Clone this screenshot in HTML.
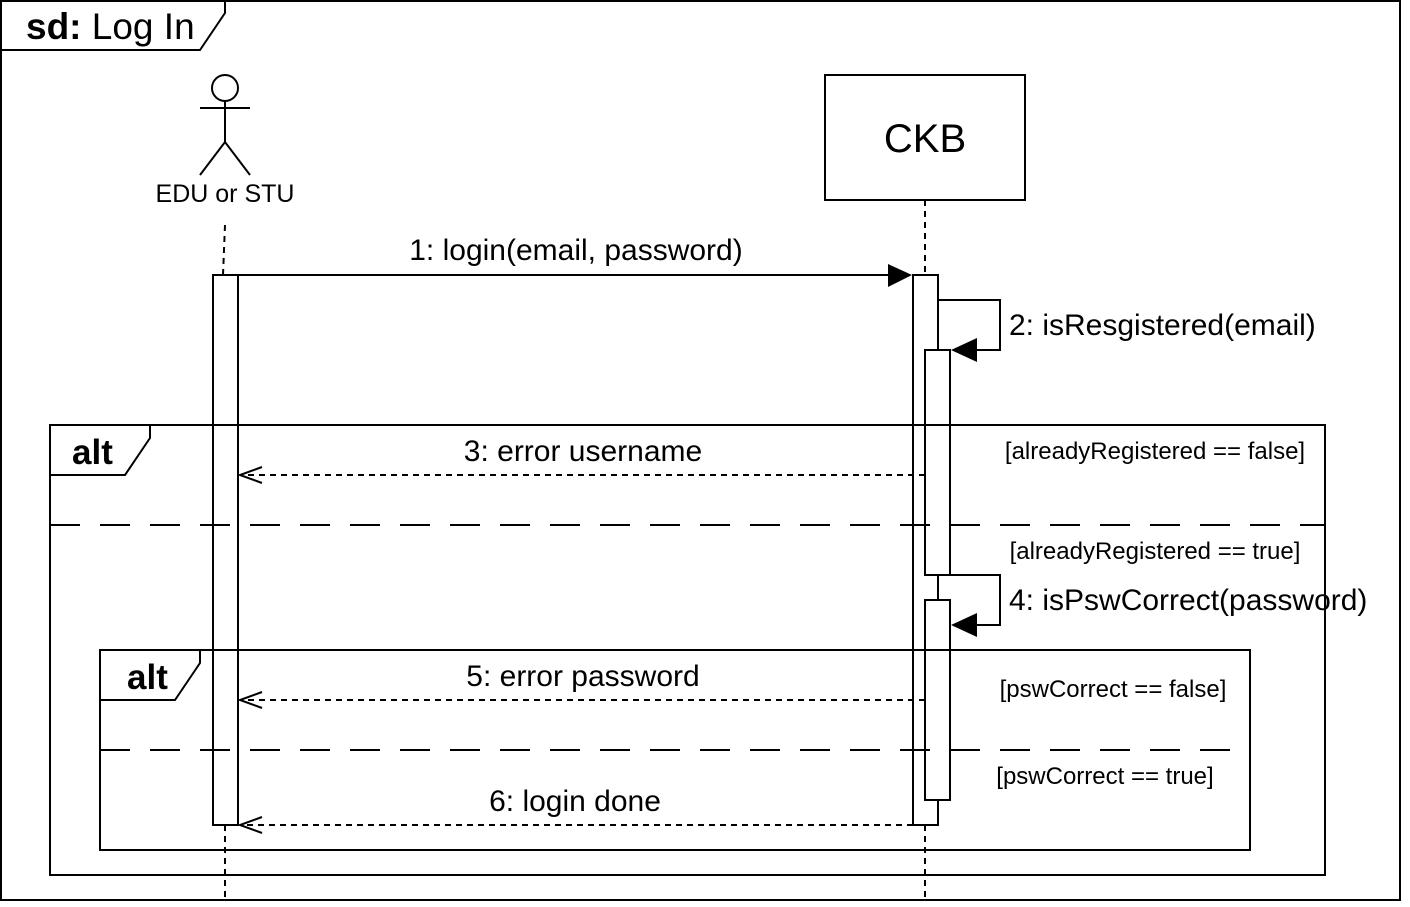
<!DOCTYPE html>
<html><head><style>body{margin:0;background:#fff}svg{display:block}text{font-family:"Liberation Sans",Arial,sans-serif;fill:#000}</style></head>
<body>
<svg width="1410" height="907" viewBox="0 0 1410 907" xmlns="http://www.w3.org/2000/svg">
<rect x="0" y="0" width="1410" height="907" fill="#fff"/>
<g stroke="#000" stroke-width="2" fill="none">
<rect x="1" y="1" width="1399" height="899"/>
<path d="M1 50 H200 L225 13 V1"/>
<path d="M225 225 L223 275 M225 825 V900 M925 200 V275 M925 825 V900" stroke-dasharray="6,5"/>
<circle cx="225" cy="88" r="13"/>
<path d="M225 101 V142 M200 108 H250 M200 175 L225 142 L250 175"/>
</g>
<rect x="825" y="75" width="200" height="125" fill="#fff" stroke="#000" stroke-width="2"/>
<text x="925" y="152" font-size="40" text-anchor="middle">CKB</text>
<text x="225" y="202" font-size="25" text-anchor="middle">EDU or STU</text>
<text x="26" y="39" font-size="37"><tspan font-weight="bold">sd:</tspan> Log In</text>
<g stroke="#000" stroke-width="2" fill="#fff">
<rect x="213" y="275" width="25" height="550"/>
<rect x="913" y="275" width="25" height="550"/>
<rect x="925" y="350" width="25" height="225"/>
<rect x="925" y="600" width="25" height="200"/>
</g>
<g stroke="#000" stroke-width="2" fill="none">
<path d="M238 275 H890"/>
<path d="M938 300 H1000 V350 H975"/>
<path d="M938 575 H1000 V625 H975"/>
<path d="M925 475 H240 M925 700 H240 M913 825 H240" stroke-dasharray="6,5"/>
<path d="M262 467 L240 475 L262 483 M262 692 L240 700 L262 708 M262 817 L240 825 L262 833"/>
</g>
<g fill="#000">
<path d="M888 264 L912 275 L888 287Z"/>
<path d="M951 350 L977 338 L977 362Z"/>
<path d="M951 625 L977 613 L977 637Z"/>
</g>
<g stroke="#000" stroke-width="2" fill="none">
<rect x="50" y="425" width="1275" height="450"/>
<path d="M50 475 H125 L150 438 V425"/>
<path d="M50 525 H1325" stroke-dasharray="30,20"/>
<rect x="100" y="650" width="1150" height="200"/>
<path d="M100 700 H175 L200 663 V650"/>
<path d="M100 750 H1250" stroke-dasharray="30,20"/>
</g>
<g font-size="30">
<text x="576" y="260" text-anchor="middle">1: login(email, password)</text>
<text x="1009" y="335">2: isResgistered(email)</text>
<text x="583" y="461" text-anchor="middle">3: error username</text>
<text x="1009" y="610">4: isPswCorrect(password)</text>
<text x="583" y="686" text-anchor="middle">5: error password</text>
<text x="575" y="811" text-anchor="middle">6: login done</text>
</g>
<g font-size="24">
<text x="1155" y="459" text-anchor="middle">[alreadyRegistered == false]</text>
<text x="1155" y="559" text-anchor="middle">[alreadyRegistered == true]</text>
<text x="1113" y="697" text-anchor="middle">[pswCorrect == false]</text>
<text x="1105" y="784" text-anchor="middle">[pswCorrect == true]</text>
</g>
<text x="72" y="464" font-size="35" font-weight="bold">alt</text>
<text x="127" y="689" font-size="35" font-weight="bold">alt</text>
</svg>
</body></html>
